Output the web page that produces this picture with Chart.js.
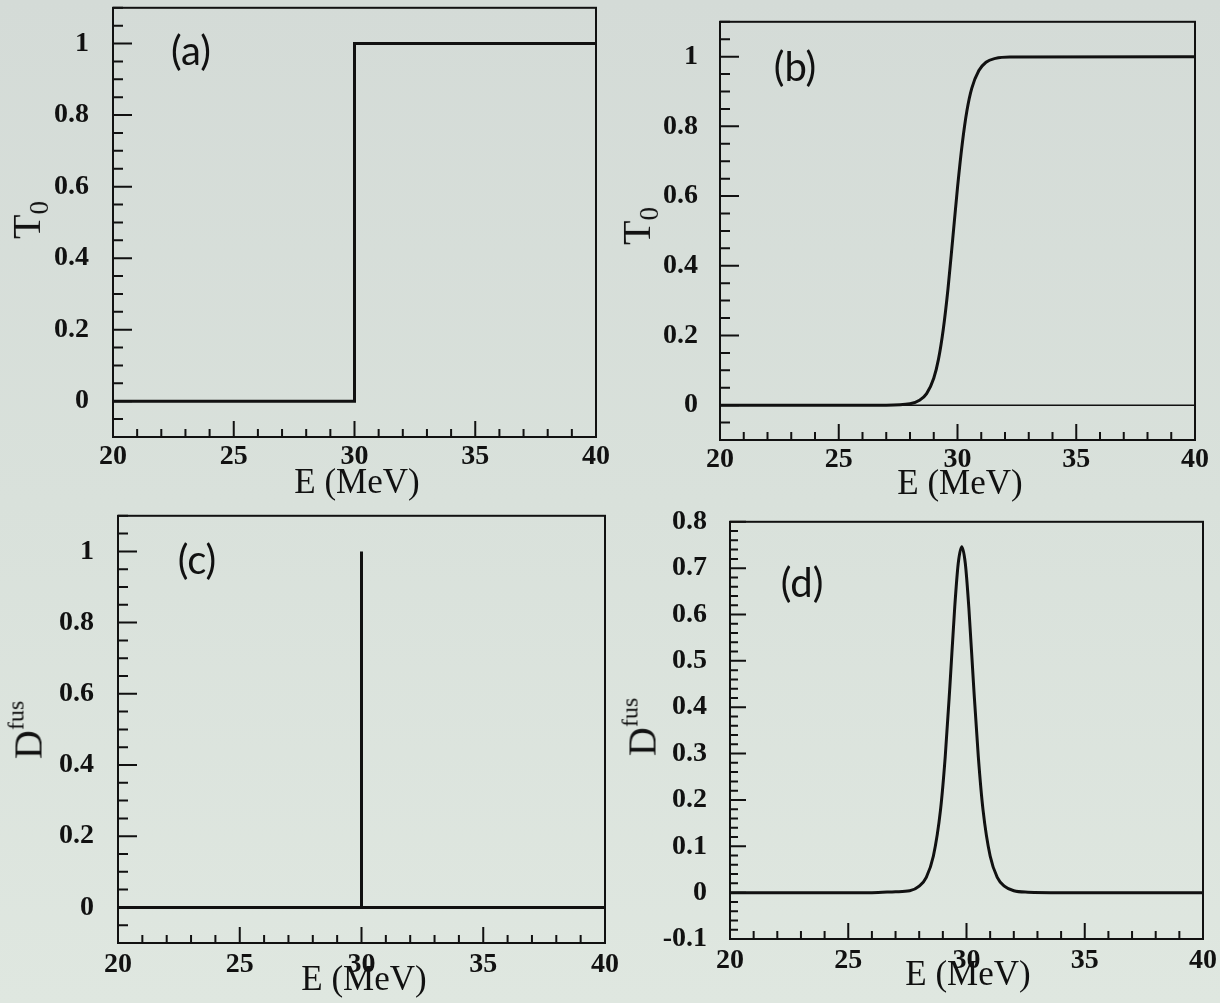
<!DOCTYPE html>
<html>
<head>
<meta charset="utf-8">
<script src="https://cdn.jsdelivr.net/npm/chart.js"></script>
<style>
html,body{margin:0;padding:0;}
body{width:1220px;height:1003px;position:relative;overflow:hidden;
  background:linear-gradient(180deg,#d4dbd7 0%,#d9e1db 50%,#dfe7e0 100%);
  font-family:'Liberation Serif',serif;color:#111;}
canvas{position:absolute;}
.lbl{position:absolute;transform:translate(-50%,-50%);white-space:nowrap;color:#111;line-height:1;}
.etitle{font-family:'Liberation Serif',serif;font-size:35px;}
.ytitle{font-family:'Liberation Serif',serif;font-size:40px;transform:translate(-50%,-50%) rotate(-90deg);}
.ytitle sub{font-size:27px;vertical-align:-0.3em;}
.ytitle sup{font-size:24px;vertical-align:0.75em;}
.plab{font-family:'Lato','DejaVu Sans',sans-serif;font-weight:400;font-size:40px;}
</style>
</head>
<body>
<canvas id="cA"></canvas>
<canvas id="cB"></canvas>
<canvas id="cC"></canvas>
<canvas id="cD"></canvas>

<div class="lbl plab" style="left:191px;top:50px;">(a)</div>
<div class="lbl plab" style="left:795px;top:66px;">(b)</div>
<div class="lbl plab" style="left:197px;top:559px;">(c)</div>
<div class="lbl plab" style="left:802px;top:582px;">(d)</div>

<div class="lbl etitle" style="left:357px;top:481px;">E (MeV)</div>
<div class="lbl etitle" style="left:960px;top:482px;">E (MeV)</div>
<div class="lbl etitle" style="left:364px;top:978px;">E (MeV)</div>
<div class="lbl etitle" style="left:968px;top:973px;">E (MeV)</div>

<div class="lbl ytitle" style="left:30px;top:220px;">T<sub>0</sub></div>
<div class="lbl ytitle" style="left:640px;top:226px;">T<sub>0</sub></div>
<div class="lbl ytitle" style="left:26px;top:730px;">D<sup>fus</sup></div>
<div class="lbl ytitle" style="left:640px;top:727px;">D<sup>fus</sup></div>

<script>
// ---- data ----
const xTickValues = [20, 25, 30, 35, 40];
const yTicksT = [0, 0.2, 0.4, 0.6, 0.8, 1];
const yTicksD = [-0.1, 0, 0.1, 0.2, 0.3, 0.4, 0.5, 0.6, 0.7, 0.8];

// (a) sharp-cutoff transmission
const energyA = [20, 30, 30, 40];
const t0A     = [0, 0, 1, 1];

// (b) smooth transmission
const energyB = [20, 27, 28.0, 28.4, 28.7, 29.0, 29.2, 29.4, 29.6, 29.8, 30.0, 30.2, 30.4, 30.6, 30.9, 31.2, 31.6, 32.2, 40];
const t0B     = [0, 0, 0.004, 0.014, 0.033, 0.077, 0.132, 0.217, 0.334, 0.478, 0.624, 0.75, 0.846, 0.909, 0.96, 0.984, 0.995, 0.999, 1.0];
const zeroE   = [20, 40];
const zeroV   = [0, 0];

// (c) spike barrier distribution
const energyC = [20, 30, 30, 30, 40];
const dfusC   = [0, 0, 1, 0, 0];

// (d) smooth barrier distribution
const energyD = [20, 26, 27, 27.6, 28.0, 28.3, 28.6, 28.9, 29.1, 29.3, 29.5, 29.65, 29.8, 29.95, 30.1, 30.3, 30.5, 30.7, 31.0, 31.3, 31.6, 32.0, 32.6, 34, 40];
const dfusD   = [0, 0, 0.002, 0.004, 0.014, 0.033, 0.079, 0.178, 0.293, 0.447, 0.614, 0.71, 0.746, 0.71, 0.614, 0.447, 0.293, 0.178, 0.079, 0.033, 0.014, 0.004, 0.001, 0, 0];

// ---- helpers ----
const INK = '#111';
const pts = (xs, ys) => xs.map((x, i) => ({x: x, y: ys[i]}));

const frameTicks = {
  id: 'frameTicks',
  afterDatasetsDraw(chart, args, o) {
    const {ctx, chartArea: ca, scales: {x, y}} = chart;
    ctx.save();
    ctx.strokeStyle = INK;
    ctx.lineWidth = 2;
    ctx.strokeRect(ca.left, ca.top, ca.right - ca.left, ca.bottom - ca.top);
    ctx.beginPath();
    const nx = Math.round((x.max - x.min) / o.xMinor);
    for (let i = 0; i <= nx; i++) {
      const v = x.min + i * o.xMinor;
      const px = x.getPixelForValue(v);
      const major = Math.abs(v / o.xMajor - Math.round(v / o.xMajor)) < 1e-6;
      const len = major ? o.xMajLen : o.xMinLen;
      ctx.moveTo(px, ca.bottom);
      ctx.lineTo(px, ca.bottom - len);
    }
    const ny = Math.round((y.max - y.min) / o.yMinor);
    for (let i = 0; i <= ny; i++) {
      const v = y.min + i * o.yMinor;
      const py = y.getPixelForValue(v);
      const major = Math.abs(v / o.yMajor - Math.round(v / o.yMajor)) < 1e-6;
      const len = major ? o.yMajLen : o.yMinLen;
      ctx.moveTo(ca.left, py);
      ctx.lineTo(ca.left + len, py);
    }
    ctx.stroke();
    ctx.restore();
  }
};

function makePanel(id, box, yMin, yMax, yTicks, makeDatasets, tickOpts, xPad, yPad) {
  const LM = 120, TM = 20, RM = 40, BM = 90;
  const cv = document.getElementById(id);
  const ext = {l: 0, t: 0, r: 0, b: 0};
  const tickFont = {family: "'Liberation Serif', serif", size: 28, weight: 'bold'};
  let chart = null;
  for (let iter = 0; iter < 4; iter++) {
    const w = Math.round(box.r - box.l + LM + RM + ext.l + ext.r);
    const h = Math.round(box.b - box.t + TM + BM + ext.t + ext.b);
    const left = Math.round(box.l - LM - ext.l);
    const top = Math.round(box.t - TM - ext.t);
    cv.width = w; cv.height = h;
    cv.style.width = w + 'px'; cv.style.height = h + 'px';
    cv.style.left = left + 'px';
    cv.style.top = top + 'px';
    chart = new Chart(cv, {
      type: 'line',
      data: {datasets: makeDatasets()},
      options: {
        responsive: false,
        maintainAspectRatio: false,
        animation: false,
        devicePixelRatio: 1,
        layout: {autoPadding: false, padding: {left: 0, top: TM, right: RM, bottom: 0}},
        plugins: {legend: {display: false}, tooltip: {enabled: false}, frameTicks: tickOpts},
        elements: {point: {radius: 0}},
        scales: {
          x: {
            type: 'linear', min: 20, max: 40,
            grid: {display: false, drawTicks: false},
            border: {display: false},
            afterBuildTicks: s => { s.ticks = xTickValues.map(v => ({value: v})); },
            afterFit: s => { s.height = BM; },
            ticks: {font: tickFont, color: INK, padding: xPad, maxRotation: 0,
                    callback: v => String(v)}
          },
          y: {
            type: 'linear', min: yMin, max: yMax,
            grid: {display: false, drawTicks: false},
            border: {display: false},
            afterBuildTicks: s => { s.ticks = yTicks.map(v => ({value: v})); },
            afterFit: s => { s.width = LM; },
            ticks: {font: tickFont, color: INK, padding: yPad,
                    callback: v => String(Math.round(v * 100) / 100)}
          }
        }
      },
      plugins: [frameTicks]
    });
    const ca = chart.chartArea;
    const dl = (left + ca.left) - box.l;
    const dt = (top + ca.top) - box.t;
    const dr = box.r - (left + ca.right);
    const db = box.b - (top + ca.bottom);
    if (Math.abs(dl) < 0.6 && Math.abs(dt) < 0.6 && Math.abs(dr) < 0.6 && Math.abs(db) < 0.6) break;
    if (iter === 3) break;
    chart.destroy();
    ext.l += dl; ext.t += dt; ext.r += dr; ext.b += db;
  }
  return chart;
}

const tT = {xMinor: 1, xMajor: 5, xMajLen: 16, xMinLen: 8, yMinor: 0.05, yMajor: 0.2, yMajLen: 19, yMinLen: 10};
const tD = {xMinor: 1, xMajor: 5, xMajLen: 16, xMinLen: 8, yMinor: 0.02, yMajor: 0.1, yMajLen: 16, yMinLen: 8};

const lineDs = (xs, ys, extra) => Object.assign({
  data: pts(xs, ys), borderColor: INK, borderWidth: 3, tension: 0, fill: false,
  pointRadius: 0, borderJoinStyle: 'miter'
}, extra || {});

makePanel('cA', {l: 113, t: 8, r: 596, b: 437}, -0.1, 1.1, yTicksT,
  () => [lineDs(energyA, t0A)], tT, 3, 24);

makePanel('cB', {l: 720, t: 22, r: 1195, b: 440}, -0.1, 1.1, yTicksT,
  () => [lineDs(zeroE, zeroV, {borderWidth: 1.5}),
         lineDs(energyB, t0B, {cubicInterpolationMode: 'monotone'})], tT, 3, 22);

makePanel('cC', {l: 118, t: 516, r: 605, b: 943}, -0.1, 1.1, yTicksT,
  () => [lineDs(energyC, dfusC)], tT, 5, 24);

makePanel('cD', {l: 730, t: 522, r: 1203, b: 939}, -0.1, 0.8, yTicksD,
  () => [lineDs(energyD, dfusD, {cubicInterpolationMode: 'monotone'})], tD, 5, 23);
</script>
</body>
</html>
